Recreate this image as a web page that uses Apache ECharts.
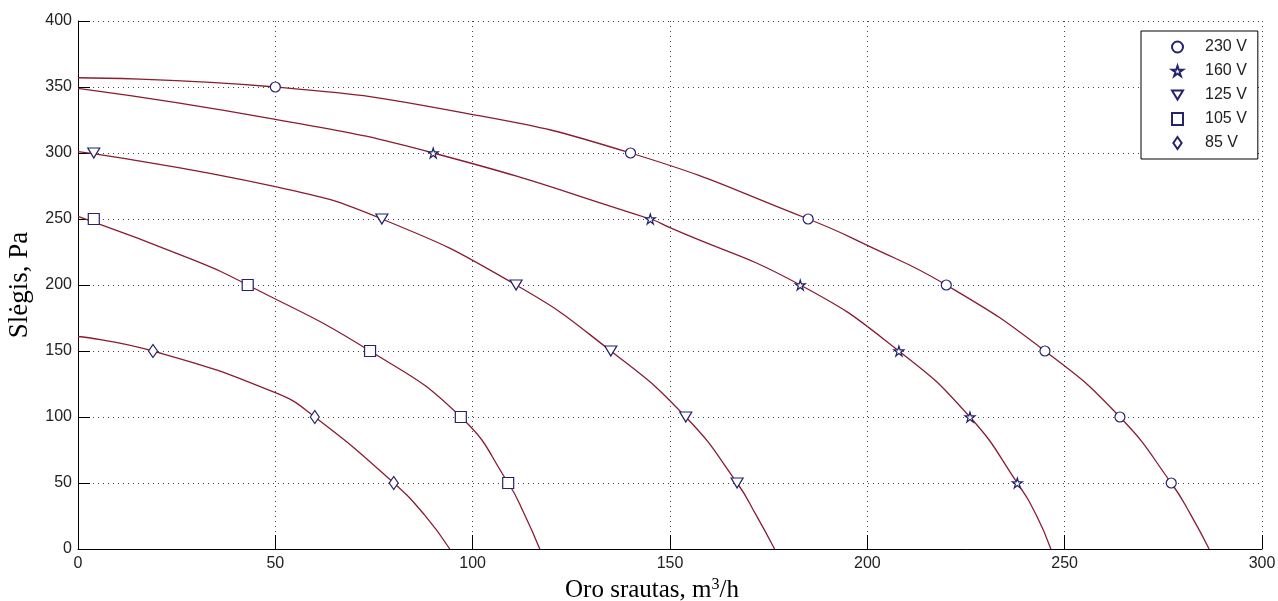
<!DOCTYPE html>
<html>
<head>
<meta charset="utf-8">
<script src="https://cdn.jsdelivr.net/npm/echarts@6/dist/echarts.min.js"></script>
<style>
  html, body { margin: 0; padding: 0; background: #fff; }
  #chart { width: 1278px; height: 601px; }
</style>
</head>
<body>
<div id="chart"></div>
<script>
// Fan curves: static pressure vs. air flow at five supply voltages
const voltages = ['230 V', '160 V', '125 V', '105 V', '85 V'];

// measured points (flow m3/h, pressure Pa)
const flow230 = [50, 140, 185, 220, 245, 264, 277];
const pres230 = [350, 300, 250, 200, 150, 100, 50];
const flow160 = [90, 145, 183, 208, 226, 238];
const pres160 = [300, 250, 200, 150, 100, 50];
const flow125 = [4, 77, 111, 135, 154, 167];
const pres125 = [300, 250, 200, 150, 100, 50];
const flow105 = [4, 43, 74, 97, 109];
const pres105 = [250, 200, 150, 100, 50];
const flow85 = [19, 60, 80];
const pres85 = [150, 100, 50];

// fitted characteristic curves
const fit230X = [0, 50, 96.7, 140, 185, 200, 220, 245, 264, 277, 282, 286.6];
const fit230Y = [357, 350, 331, 300, 250, 230, 200, 150, 100, 50, 25.7, 0];
const fit160X = [0, 50, 90, 145, 150, 183, 208, 226, 238, 242.8, 246.5];
const fit160Y = [349, 325.5, 300, 250, 243.4, 200, 150, 100, 50, 25.7, 0];
const fit125X = [0, 50, 77, 111, 135, 154, 167, 171.8, 176.5];
const fit125Y = [301, 274.5, 250, 200, 150, 100, 50, 25.8, 0];
const fit105X = [0, 29.2, 43, 74, 97, 109, 113.2, 117];
const fit105Y = [252, 219, 200, 150, 100, 50, 25.8, 0];
const fit85X = [0, 19, 50, 60, 80, 87.8, 94.2];
const fit85Y = [161, 150, 118.4, 100, 50, 25.8, 0];

const xTicks = [0, 50, 100, 150, 200, 250, 300];
const yTicks = [0, 50, 100, 150, 200, 250, 300, 350, 400];

const pts = (xs, ys) => xs.map((x, i) => [x, ys[i]]);

const markerColor = '#23236e';
const curveColor = '#8a1c30';

const starPath = 'path://M50 0L61.2 34.6L97.6 34.5L68.1 55.9L79.4 90.5L50 69L20.6 90.5L31.9 55.9L2.4 34.5L38.8 34.6Z';
const triDownPath = 'path://M0 0L12 0L6 10Z';
const diamondPath = 'path://M4.5 0L9 6.5L4.5 13L0 6.5Z';

const markerDefs = [
  { name: voltages[0], data: pts(flow230, pres230), symbol: 'circle', size: 10 },
  { name: voltages[1], data: pts(flow160, pres160), symbol: starPath, size: 10 },
  { name: voltages[2], data: pts(flow125, pres125), symbol: triDownPath, size: [12, 10] },
  { name: voltages[3], data: pts(flow105, pres105), symbol: 'rect', size: 11 },
  { name: voltages[4], data: pts(flow85, pres85), symbol: diamondPath, size: [9, 13] }
];

const curveDefs = [
  pts(fit230X, fit230Y),
  pts(fit160X, fit160Y),
  pts(fit125X, fit125Y),
  pts(fit105X, fit105Y),
  pts(fit85X, fit85Y)
];

const series = [];
curveDefs.forEach((d, i) => {
  series.push({
    name: voltages[i] + ' fit',
    type: 'line',
    data: d,
    smooth: 0.5,
    showSymbol: false,
    symbol: 'none',
    lineStyle: { color: curveColor, width: 1.3 },
    itemStyle: { color: curveColor },
    z: 2,
    silent: true
  });
});
markerDefs.forEach(m => {
  series.push({
    name: m.name,
    type: 'scatter',
    data: m.data,
    symbol: m.symbol,
    symbolSize: m.size,
    itemStyle: { color: '#ffffff', borderColor: markerColor, borderWidth: 1.2, opacity: 1 },
    z: 3
  });
});

const axisLabelStyle = { fontFamily: 'Liberation Sans, Arial, sans-serif', fontSize: 16, color: '#222' };
const gridLine = { show: true, lineStyle: { color: '#444', type: [1, 4], width: 1 } };
const serif = 'Liberation Serif, Times New Roman, serif';

const chart = echarts.init(document.getElementById('chart'), null, { renderer: 'canvas' });
chart.setOption({
  animation: false,
  backgroundColor: '#fff',
  grid: { left: 78, top: 21, right: 16, bottom: 52, containLabel: false, outerBoundsMode: 'none' },
  legend: {
    orient: 'vertical',
    left: 1141,
    top: 31,
    padding: [8, 11, 8, 30],
    itemWidth: 11,
    itemHeight: 12,
    itemGap: 8,
    backgroundColor: '#fff',
    borderColor: '#000',
    borderWidth: 1,
    borderRadius: 0,
    symbolKeepAspect: true,
    data: [
      { name: voltages[0], icon: 'circle' },
      { name: voltages[1], icon: starPath },
      { name: voltages[2], icon: triDownPath },
      { name: voltages[3], icon: 'rect' },
      { name: voltages[4], icon: diamondPath }
    ],
    textStyle: {
      fontFamily: 'Liberation Sans, Arial, sans-serif',
      fontSize: 16,
      lineHeight: 15,
      color: '#222',
      padding: [0, 0, 0, 17]
    },
    selectedMode: false
  },
  xAxis: {
    type: 'value',
    min: xTicks[0],
    max: xTicks[xTicks.length - 1],
    interval: 50,
    name: '{t|Oro srautas, m}{s|3}{t|/h}',
    nameLocation: 'middle',
    nameGap: 21,
    nameTextStyle: {
      padding: [0, 36, 0, 0],
      rich: {
        t: { fontFamily: serif, fontSize: 25, color: '#000', lineHeight: 28 },
        s: { fontFamily: serif, fontSize: 16, color: '#000', lineHeight: 28, padding: [0, 0, 12, 0] }
      }
    },
    axisLine: { show: true, onZero: false, lineStyle: { color: '#000', width: 1 } },
    axisTick: { show: true, inside: true, length: 14, lineStyle: { color: '#000' } },
    axisLabel: Object.assign({ margin: 7, formatter: v => String(v) }, axisLabelStyle),
    splitLine: gridLine
  },
  yAxis: {
    type: 'value',
    min: yTicks[0],
    max: yTicks[yTicks.length - 1],
    interval: 50,
    name: 'Slėgis, Pa',
    nameLocation: 'middle',
    nameRotate: 90,
    nameGap: 43,
    nameTextStyle: { fontFamily: serif, fontSize: 27, lineHeight: 28, color: '#000' },
    axisLine: { show: true, onZero: false, lineStyle: { color: '#000', width: 1 } },
    axisTick: { show: true, inside: true, length: 12, lineStyle: { color: '#000' } },
    axisLabel: Object.assign({ margin: 6, formatter: v => String(v) }, axisLabelStyle),
    splitLine: gridLine
  },
  series: series
});
</script>
</body>
</html>
